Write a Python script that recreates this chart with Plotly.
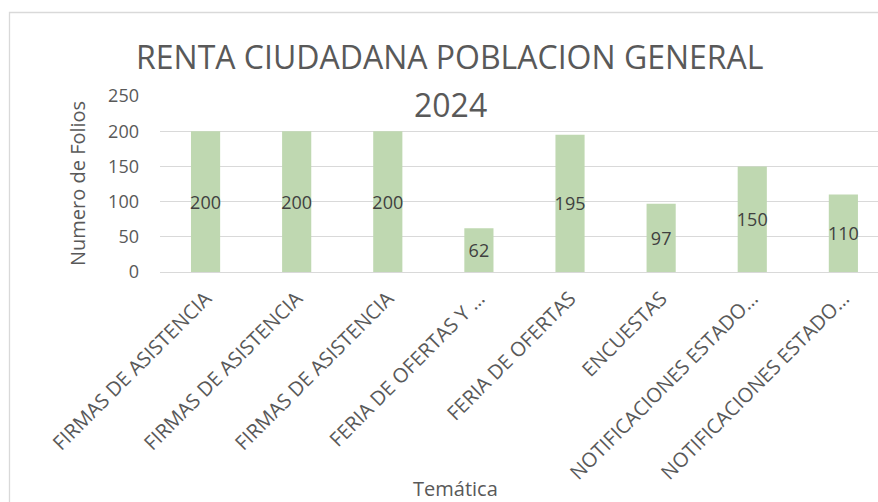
import plotly.graph_objects as go

categories = ["FIRMAS DE ASISTENCIA", "FIRMAS DE ASISTENCIA", "FIRMAS DE ASISTENCIA",
              "FERIA DE OFERTAS Y …", "FERIA DE OFERTAS", "ENCUESTAS",
              "NOTIFICACIONES ESTADO…", "NOTIFICACIONES ESTADO…"]
values = [200, 200, 200, 62, 195, 97, 150, 110]
y_ticks = [0, 50, 100, 150, 200, 250]
title_line1 = "RENTA CIUDADANA POBLACION GENERAL"
title_line2 = "2024"
x_title = "Temática"
y_title = "Numero de Folios"

W, H = 878, 502
L, R, T, B = 160, 0, 96, 230
pw, ph = W - L - R, H - T - B

def px(x):
    return (x - L) / pw

def py(y):
    return (H - B - y) / ph

FONT = "Open Sans"
TXT = "#595959"
GRID = "#d9d9d9"
positions = list(range(len(categories)))

fig = go.Figure()
fig.add_trace(go.Bar(
    x=positions, y=values,
    width=0.32,
    marker=dict(color="#BFD8B1", line=dict(width=0)),
    text=[str(v) for v in values],
    textposition="inside",
    insidetextanchor="middle",
    textangle=0,
    constraintext="none",
    textfont=dict(family=FONT, size=18, color="#404040"),
    cliponaxis=False,
    hoverinfo="skip",
))

fig.update_layout(
    width=W, height=H,
    margin=dict(l=L, r=R, t=T, b=B, pad=0, autoexpand=False),
    paper_bgcolor="white", plot_bgcolor="white",
    showlegend=False,
    font=dict(family=FONT, color=TXT),
    xaxis=dict(
        range=[-0.5, 7.38],
        tickmode="array", tickvals=positions, ticktext=categories,
        tickangle=-45,
        tickfont=dict(family=FONT, size=20, color=TXT),
        showgrid=False, zeroline=False,
        showline=True, linecolor=GRID, linewidth=1,
        ticks="", ticklabelstandoff=6, fixedrange=True, automargin=False,
    ),
    yaxis=dict(
        range=[0, 250],
        tickmode="array", tickvals=y_ticks,
        tickfont=dict(family=FONT, size=18, color=TXT),
        showgrid=True, gridcolor=GRID, gridwidth=1,
        zeroline=False, showline=False, ticks="",
        ticklabelstandoff=20, fixedrange=True, automargin=False,
    ),
    shapes=[dict(
        type="rect", xref="paper", yref="paper",
        x0=px(9.5), x1=px(890), y0=py(515), y1=py(12.5),
        line=dict(color=GRID, width=1.3), fillcolor="rgba(0,0,0,0)", layer="below",
    )],
    annotations=[
        dict(text=title_line1, xref="paper", yref="paper", x=px(450), y=py(57),
             xanchor="center", yanchor="middle", showarrow=False,
             font=dict(family=FONT, size=32, color=TXT)),
        dict(text=title_line2, xref="paper", yref="paper", x=px(450), y=py(104),
             xanchor="center", yanchor="middle", showarrow=False,
             font=dict(family=FONT, size=32, color=TXT)),
        dict(text=y_title, xref="paper", yref="paper", x=px(77), y=py(184),
             xanchor="center", yanchor="middle", textangle=-90, showarrow=False,
             font=dict(family=FONT, size=20, color=TXT)),
        dict(text=x_title, xref="paper", yref="paper", x=px(455), y=py(488),
             xanchor="center", yanchor="middle", showarrow=False,
             font=dict(family=FONT, size=20, color=TXT)),
    ],
)

fig.write_html(
    "out.html",
    config={"displayModeBar": False},
    post_script="document.body.style.margin='0';document.body.style.overflow='hidden';",
)
